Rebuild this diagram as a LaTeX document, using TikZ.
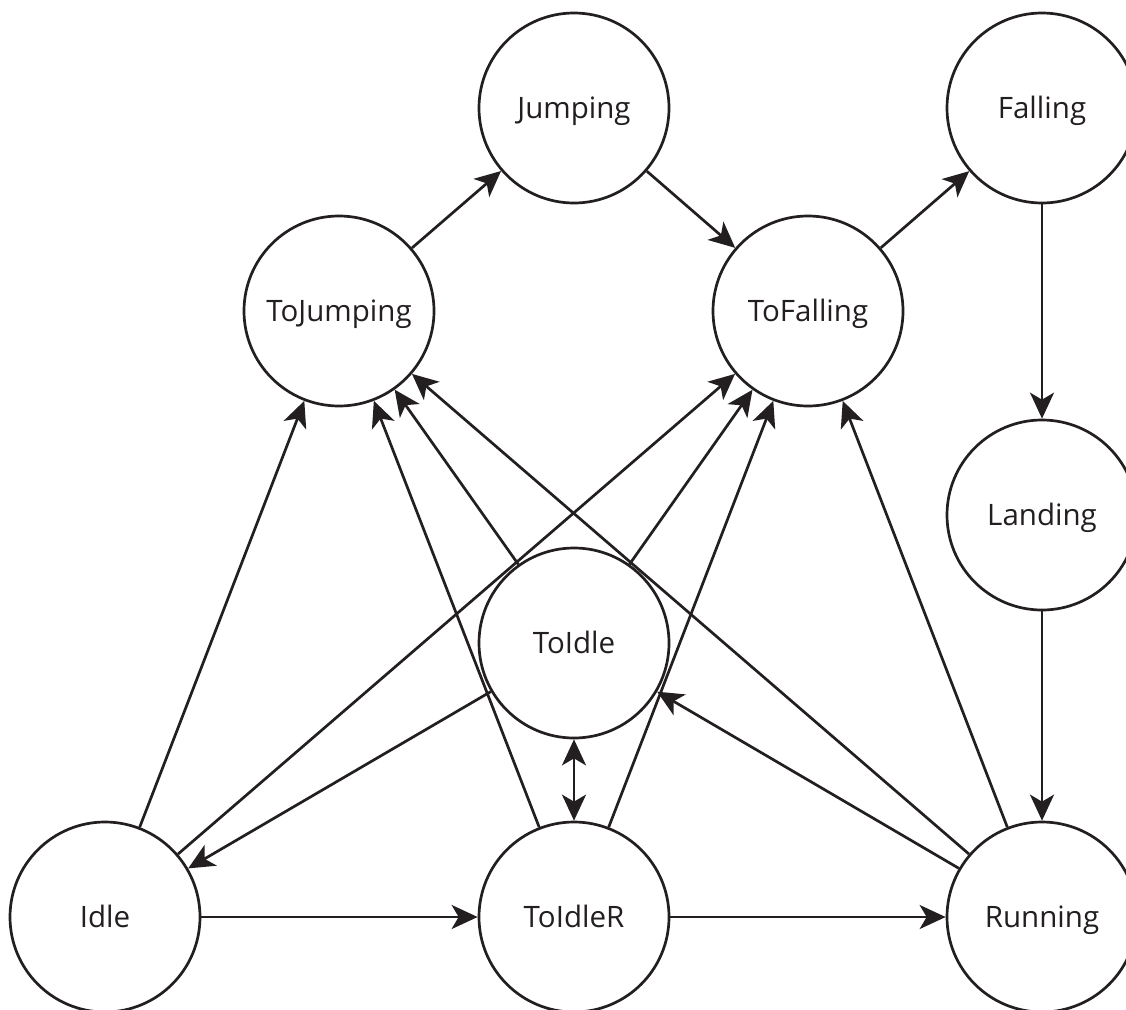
\documentclass[tikz,border=0pt]{standalone}
\usepackage{fontspec}
\setmainfont{Open Sans}
\usetikzlibrary{arrows.meta}
\definecolor{ink}{HTML}{231F20}
\tikzset{
  state/.style={circle, draw=ink, text=ink, line width=2.7pt, minimum size=190pt, inner sep=0pt,
    text height=21pt, text depth=0pt,
    font=\fontsize{29.5}{34}\selectfont},
  arrowtip/.style={Stealth[length=26pt,width=24pt,inset=7pt]},
  trans/.style={draw=ink, line width=2.7pt, -{Stealth[length=26pt,width=24pt,inset=7pt]}},
  both/.style={draw=ink, line width=2.7pt,
    {Stealth[length=26pt,width=24pt,inset=7pt]}-{Stealth[length=26pt,width=24pt,inset=7pt]}}
}
\begin{document}
\begin{tikzpicture}[x=1pt,y=-1pt]
\useasboundingbox (0,0) rectangle (1126,1009);
\fill[white] (0,0) rectangle (1126,1009);
% states
\node[state] (jump)   at (574,108) {Jumping};
\node[state] (fall)   at (1042,108) {Falling};
\node[state] (tojump) at (339,311) {ToJumping};
\node[state] (tofall) at (808,311) {ToFalling};
\node[state] (land)   at (1042,515) {Landing};
\node[state] (toidle) at (574,643) {ToIdle};
\node[state] (idle)   at (105,917) {Idle};
\node[state] (toidler) at (574,917) {ToIdleR};
\node[state] (run)    at (1042,917) {Running};
% transitions
\draw[trans] (tojump) -- (jump);
\draw[trans] (jump) -- (tofall);
\draw[trans] (tofall) -- (fall);
\draw[trans] (fall) -- (land);
\draw[trans] (land) -- (run);
\draw[trans] (idle) -- (tojump);
\draw[trans] (idle) -- (toidler);
\draw[trans] (toidler) -- (run);
\draw[trans] (idle) -- (tofall);
\draw[trans] (toidle) -- (idle);
\draw[trans] (toidler) -- (tojump);
\draw[trans] (toidle) -- (tojump);
\draw[trans] (run) -- (tojump);
\draw[trans] (toidle) -- (tofall);
\draw[trans] (toidler) -- (tofall);
\draw[trans] (run) -- (tofall);
\draw[trans] (run) -- (toidle);
\draw[both] (toidle) -- (toidler);
\end{tikzpicture}
\end{document}
